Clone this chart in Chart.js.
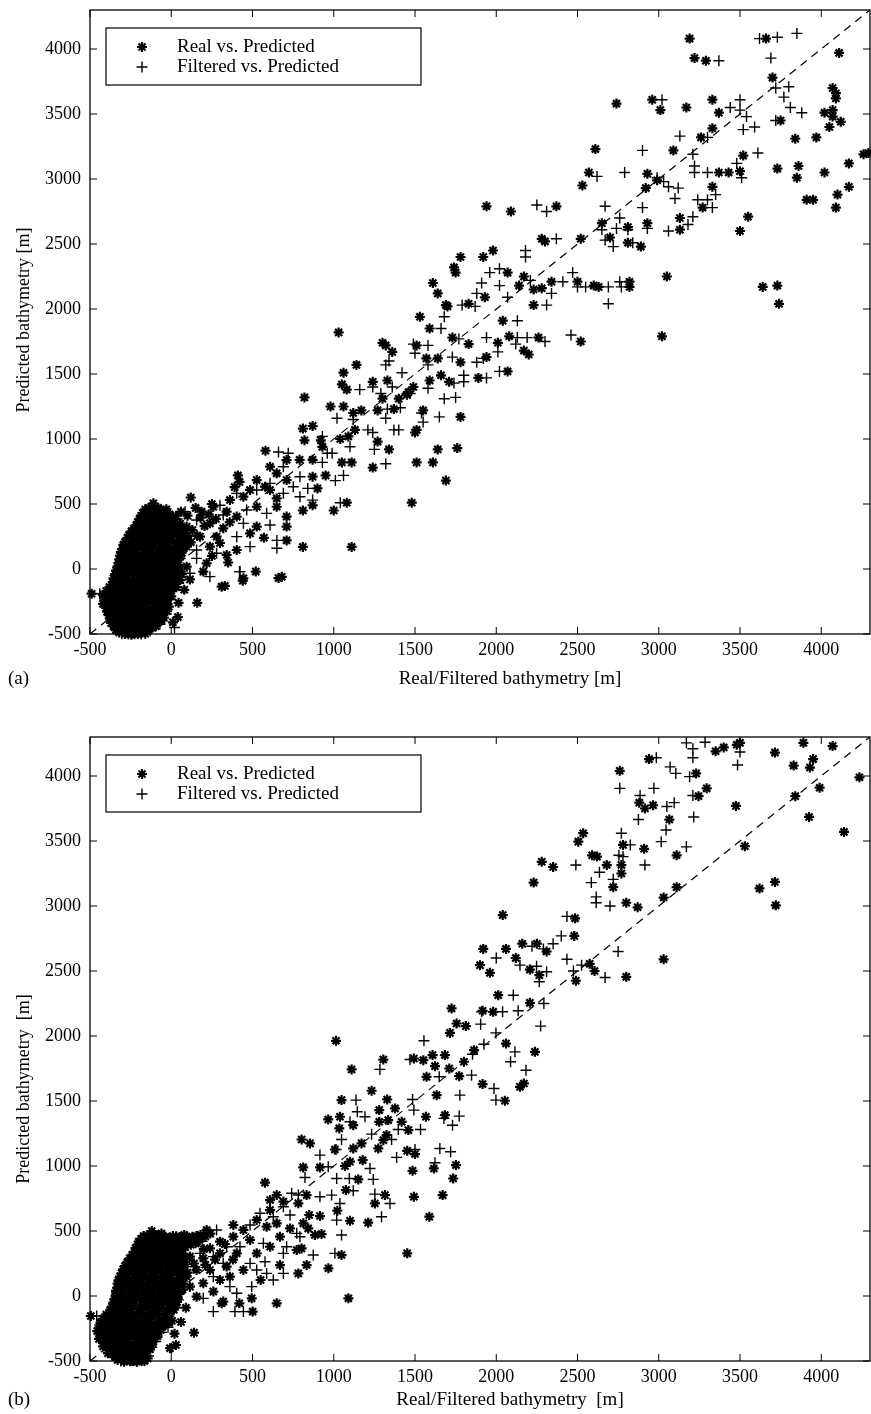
<!DOCTYPE html>
<html>
<head>
<meta charset="utf-8">
<script src="https://cdn.jsdelivr.net/npm/chart.js@4.4.0/dist/chart.umd.min.js"></script>
<style>
  html, body { margin: 0; padding: 0; background: #fff; }
  .panel { position: absolute; left: 0; width: 871px; height: 707px; }
  #panelA { top: 0; }
  #panelB { top: 707px; }
</style>
</head>
<body>
<div class="panel" id="panelA"><canvas id="chartA" width="871" height="707"></canvas></div>
<div class="panel" id="panelB"><canvas id="chartB" width="871" height="707"></canvas></div>
<script>
// axis ticks, both axes, both panels
const tickValues = [-500, 0, 500, 1000, 1500, 2000, 2500, 3000, 3500, 4000];
const axisMin = -500, axisMax = 4300;
const diagonal = [[-500, -500], [4300, 4300]];

// ---- panel (a) ----
const realA = [
  [3190,4080],[3660,4080],[3220,3930],[3290,3910],[4110,3970],[3700,3780],[4070,3700],[4090,3660],[4090,3620],[2740,3580],
  [2960,3610],[3010,3530],[3170,3550],[3330,3610],[3370,3510],[4020,3510],[4070,3530],[4070,3480],[4120,3440],[4050,3400],
  [3330,3390],[3750,3450],[3260,3320],[3840,3310],[3970,3320],[2610,3230],[3090,3220],[3520,3180],[4260,3190],[4290,3200],
  [4170,3120],[2570,3050],[2530,2950],[2930,3040],[2990,2990],[3370,3050],[3430,3050],[3500,3060],[3730,3080],[3860,3100],
  [3850,3010],[4020,3050],[2920,2930],[3330,2940],[3270,2780],[3910,2840],[3950,2840],[4100,2880],[4170,2940],[4090,2780],
  [3550,2710],[2650,2660],[2810,2630],[2930,2660],[2700,2550],[2810,2510],[2890,2480],[2520,2540],[3130,2700],[3130,2610],
  [3500,2600],[2500,2210],[2600,2180],[2630,2170],[2820,2210],[2820,2170],[3050,2250],[3640,2170],[3730,2180],[3740,2040],
  [3020,1790],
  [1940,2790],[2090,2750],[2370,2790],[2280,2540],[2300,2520],[1780,2400],[1920,2400],[1980,2450],[1740,2320],[1750,2280],
  [2070,2280],[1930,2090],[2170,2250],[2140,2180],[2230,2150],[2280,2160],[2340,2210],[2230,2030],[1610,2200],[1640,2120],
  [1690,2030],[1700,2020],[1830,2040],[1530,1940],[1590,1850],[2040,1910],[1030,1820],[1300,1740],[1320,1720],[1360,1670],
  [1510,1720],[1730,1780],[2010,1740],[1830,1730],[2080,1790],[2170,1680],[2200,1650],[2260,1780],[2520,1750],[1140,1570],
  [1060,1510],[1050,1420],[1080,1380],[1570,1620],[1640,1620],[1780,1590],[1940,1630],[2070,1520],[1450,1340],[1590,1450],
  [1660,1490],[1710,1440],[1890,1470],[1550,1220],[1780,1170],[1510,1070],[1500,1050],[1640,920],[1760,930],[1510,820],
  [1610,820],[1690,680],[1480,510],[1240,780],[1080,510],[1000,450],[820,1320],[980,1250],[1060,1250],[870,1100],
  [810,1080],[1240,1440],[1330,1450],[1300,1310],[1400,1310],[1460,1360],[1490,1400],[1370,1230],[1270,1220],[1120,1200],
  [1170,1220],[1130,1070],[1270,980],[1340,920],[920,990],[1040,1000],[1090,1020],[930,940],[820,990],[790,840],
  [870,840],[1050,820],[1110,820],[950,720],[870,710],[900,620],[870,490],[810,450],
  [580,910],[120,550],[250,500],[390,630],[420,670],[410,720],[570,240],[710,220],[810,170],[1110,170],
  [520,-20],[440,-90],[330,-130],[660,-70],[680,-60],[160,-260],[40,-370],[10,-410],[-490,-190],
  [710,838],[608,787],[649,736],[710,684],[526,684],[577,633],[485,608],[608,608],[649,543],[444,556],
  [361,531],[259,479],[341,441],[403,403],[526,479],[710,403],[649,479],[187,441],[95,326],[238,351],
  [320,313],[485,274],[279,249],[177,249],[710,326],[526,326],[95,172],[238,172],[341,108],[403,146],
  [218,44],[95,18],[197,-20],[310,-136],[444,-72],
  [100,410],[60,440],[150,470],[180,395],[130,300],[205,330],[160,255],[230,420],[275,385],[65,125],
  [120,205],[115,-80],[80,-160],[45,-260],[360,360],[300,200],[250,100],[350,50]
];
// dense core near the origin
const realCoreA = [
  [-110,505],[-80,470],[-140,470],
  [-175,430],[-130,445],[-90,430],[-45,445],[-10,420],
  [-195,385],[-155,395],[-115,380],[-70,400],[-30,375],[15,390],
  [-215,335],[-175,345],[-135,330],[-95,350],[-50,325],[-5,345],[40,320],
  [-245,290],[-200,280],[-160,300],[-120,275],[-75,295],[-30,270],[15,290],[60,265],
  [-270,240],[-230,225],[-185,245],[-145,220],[-100,240],[-55,215],[-10,235],[35,210],[80,230],
  [-295,185],[-250,170],[-205,190],[-165,165],[-120,185],[-75,160],[-30,180],[15,155],[60,175],
  [-310,130],[-270,115],[-225,135],[-180,110],[-140,130],[-95,105],[-50,125],[-5,100],[40,120],
  [-320,75],[-280,60],[-240,80],[-195,55],[-150,75],[-110,50],[-65,70],[-20,45],[30,65],
  [-330,20],[-290,5],[-250,25],[-205,0],[-160,20],[-120,-5],[-75,15],[-30,-10],[15,10],[50,-20],
  [-345,-40],[-300,-55],[-260,-35],[-215,-60],[-170,-40],[-130,-65],[-85,-45],[-40,-70],[5,-50],[40,-80],
  [-360,-100],[-320,-115],[-275,-95],[-230,-120],[-190,-100],[-145,-125],[-100,-105],[-55,-130],[-10,-110],[30,-140],
  [-400,-170],[-355,-155],[-315,-175],[-270,-160],[-225,-180],[-180,-160],[-140,-185],[-95,-165],[-50,-190],[-5,-170],
  [-410,-240],[-370,-220],[-330,-235],[-285,-215],[-240,-240],[-200,-220],[-155,-245],[-110,-225],[-65,-250],[-20,-230],
  [-400,-300],[-360,-280],[-315,-295],[-270,-275],[-225,-300],[-185,-280],[-140,-305],[-95,-285],[-50,-310],[-15,-290],
  [-385,-355],[-345,-340],[-300,-360],[-255,-335],[-215,-360],[-170,-340],[-125,-365],[-80,-345],[-45,-375],
  [-370,-415],[-330,-400],[-285,-420],[-245,-395],[-200,-420],[-160,-400],[-115,-425],[-80,-410],
  [-340,-470],[-300,-455],[-260,-480],[-220,-460],[-180,-485],[-145,-465],
  [-285,-500],[-245,-505],[-205,-500],
  [-160,458],[-120,462],[-75,455],[-30,460],
  [-185,410],[-135,415],[-95,405],[-50,418],[-5,400],[30,410],
  [-205,362],[-155,368],[-115,355],[-70,365],[-25,358],[20,362],[55,350],
  [-230,312],[-185,318],[-140,305],[-95,315],[-50,300],[-5,312],[40,298],[80,300],
  [-260,262],[-210,255],[-165,268],[-120,252],[-75,262],[-30,250],[15,262],[60,248],[100,255],
  [-285,208],[-230,202],[-185,214],[-140,198],[-95,210],[-50,200],[-5,212],[40,198],[85,205],
  [-300,155],[-250,148],[-200,160],[-155,145],[-115,158],[-70,142],[-25,155],[20,140],[60,150],
  [-315,102],[-260,95],[-215,105],[-170,90],[-125,102],[-80,88],[-35,98],[15,85],[55,95],
  [-325,48],[-270,40],[-225,52],[-180,35],[-135,48],[-90,30],[-45,42],[5,35],[45,30],
  [-340,-12],[-285,-20],[-235,-8],[-190,-25],[-145,-15],[-100,-30],[-55,-18],[-10,-28],[30,-15],[65,-40],
  [-355,-72],[-310,-85],[-280,-68],[-240,-90],[-195,-75],[-150,-90],[-110,-78],[-65,-95],[-20,-80],[20,-100],[55,-85],
  [-380,-138],[-340,-130],[-295,-145],[-250,-135],[-210,-150],[-165,-138],[-120,-150],[-75,-140],[-30,-155],[10,-140],
  [-420,-200],[-375,-192],[-345,-205],[-300,-198],[-255,-212],[-215,-195],[-175,-210],[-130,-198],[-85,-215],[-40,-200],[0,-210],
  [-420,-268],[-385,-255],[-345,-265],[-300,-250],[-255,-268],[-215,-255],[-170,-270],[-125,-255],[-80,-275],[-35,-262],
  [-395,-328],[-360,-318],[-320,-330],[-280,-315],[-240,-330],[-195,-318],[-150,-335],[-110,-320],[-65,-335],[-25,-325],
  [-375,-385],[-350,-378],[-310,-390],[-270,-372],[-230,-388],[-185,-375],[-140,-392],[-100,-378],[-60,-395],
  [-355,-442],[-315,-435],[-275,-448],[-235,-432],[-195,-445],[-155,-438],[-115,-450],[-95,-440],
  [-320,-488],[-270,-492],[-230,-495],[-190,-490],[-160,-498]
];
const filtA = [
  [3620,4080],[3730,4090],[3850,4120],[3370,3910],[3690,3930],[3720,3700],[3800,3710],[3770,3630],[3020,3610],[3500,3610],
  [3440,3550],[3500,3530],[3540,3480],[3810,3550],[3880,3510],[3520,3380],[3590,3400],[3720,3450],[3300,3320],[3130,3330],
  [2900,3220],[3210,3190],[3610,3200],[3220,3100],[3480,3120],[2620,3020],[2790,3050],[2990,3010],[3030,2980],[3060,2940],
  [3120,2930],[3220,3050],[3300,3050],[3510,3010],[3350,2880],[3240,2840],[3300,2840],[3100,2850],[3330,2780],[2670,2790],
  [2900,2780],[2650,2610],[2760,2700],[2740,2620],[2810,2610],[2930,2620],[2670,2530],[2720,2480],[2840,2510],[3060,2600],
  [3180,2650],[3210,2710],[2410,2210],[2470,2280],[2500,2170],[2550,2170],[2690,2170],[2760,2210],[2770,2170],[2690,2040],
  [2250,2800],[2310,2750],[2370,2540],[2180,2450],[2180,2400],[1960,2280],[2020,2310],[1910,2200],[2020,2180],[2070,2090],
  [1880,2120],[2210,2220],[2340,2120],[2310,2030],[1790,2030],[1870,2020],[1680,1940],[1660,1850],[2130,1910],[1340,1600],
  [1320,1570],[1490,1730],[1580,1720],[1500,1660],[1940,1780],[2010,1670],[1770,1770],[2130,1780],[2190,1780],[2120,1730],
  [2300,1750],[2460,1800],[1580,1570],[1730,1630],[1880,1590],[1920,1620],[2020,1520],[1420,1510],[1470,1350],[1580,1390],
  [1740,1430],[1800,1490],[1800,1440],[1940,1470],[1680,1310],[1750,1320],[1540,1200],[1650,1170],[1550,1130],[1320,810],
  [1160,1380],[1240,1400],[1290,1350],[1360,1400],[1450,1350],[1330,1230],[1410,1240],[1320,1160],[1120,1150],[1210,1070],
  [1240,1050],[1250,920],[1370,1070],[1400,1070],[1020,1160],[930,1020],[1100,940],[990,890],[960,890],[930,820],
  [1060,720],[1010,680],[840,620],[870,530],[1040,510],
  [660,900],[720,890],[300,490],[650,220],[650,160],[420,-20],[20,-450],[-130,-460],[-440,-190],
  [690,787],[608,659],[526,608],[690,582],[751,633],[403,582],[320,415],[587,428],[464,454],[85,441],
  [156,377],[444,351],[403,249],[608,338],[156,146],[279,121],[485,172],[156,82],[115,-33],[238,-59],
  [423,-20],[792,710],[792,556]
];
const filtCoreA = [
  [-150,430],[-60,380],[-200,310],[-100,300],[0,310],[-250,200],[-150,200],[-50,200],[50,200],[-290,100],
  [-200,90],[-100,80],[0,90],[-310,-20],[-230,-30],[-140,-20],[-50,-30],[30,-40],[-350,-130],[-250,-140],
  [-160,-130],[-70,-140],[-380,-250],[-290,-250],[-200,-260],[-100,-260],[-30,-270],[-350,-380],[-250,-380],[-150,-380],
  [-300,-440],[-200,-450],[-120,-460],[-240,-490],
  [-150,440],[-105,438],[-60,442],[-20,435],
  [-175,398],[-130,392],[-90,398],[-45,390],[0,395],[35,385],
  [-195,348],[-155,340],[-110,345],[-70,338],[-25,345],[20,338],[55,330],
  [-225,298],[-180,292],[-135,298],[-95,290],[-50,296],[-5,288],[40,292],[75,285],
  [-250,248],[-205,242],[-160,250],[-120,240],[-75,248],[-30,240],[15,246],[60,238],[95,240],
  [-275,195],[-230,188],[-185,196],[-140,185],[-95,194],[-50,186],[-5,195],[40,185],[80,190],
  [-290,142],[-245,135],[-200,145],[-155,132],[-110,142],[-65,134],[-20,143],[25,132],[65,138],
  [-300,88],[-255,80],[-210,90],[-165,78],[-120,88],[-75,80],[-30,88],[15,75],[55,80],
  [-315,32],[-270,25],[-225,35],[-180,22],[-135,32],[-90,20],[-45,30],[0,18],[40,12],
  [-330,-28],[-285,-35],[-240,-25],[-195,-40],[-150,-28],[-105,-42],[-60,-30],[-15,-45],[25,-35],[60,-60],
  [-345,-88],[-300,-98],[-255,-85],[-210,-100],[-170,-88],[-125,-102],[-80,-90],[-35,-105],[10,-92],[45,-110],
  [-375,-152],[-330,-145],[-290,-158],[-245,-148],[-200,-162],[-160,-150],[-115,-165],[-70,-152],[-25,-168],[15,-160],
  [-395,-215],[-355,-208],[-310,-220],[-265,-205],[-220,-222],[-180,-208],[-135,-225],[-90,-210],[-45,-222],[-5,-235],
  [-390,-282],[-345,-272],[-300,-285],[-255,-272],[-210,-288],[-165,-272],[-120,-290],[-75,-275],[-30,-290],
  [-370,-342],[-330,-350],[-285,-338],[-240,-350],[-195,-340],[-150,-352],[-105,-338],[-60,-355],[-30,-345],
  [-355,-400],[-315,-410],[-270,-398],[-225,-410],[-180,-400],[-140,-412],[-100,-400],[-70,-425],
  [-325,-458],[-285,-465],[-245,-452],[-205,-470],[-165,-455],[-130,-475],
  [-305,-498],[-265,-500],[-225,-498],[-185,-500]
];

// ---- panel (b) ----
const realB = [
  [2940,4130],[2760,4040],[3350,4190],[3400,4220],[3480,4240],[3500,4255],[3715,4180],[3890,4255],[4070,4230],[3830,4080],
  [3930,4065],[3950,4130],[4235,3990],[3990,3910],[3230,4020],[3295,3905],[3245,3845],[2880,3795],[2915,3750],[2965,3775],
  [3065,3665],[3475,3770],[3840,3845],[3925,3685],[4140,3570],[2535,3560],[2505,3495],[2780,3470],[2910,3440],[3110,3390],
  [2590,3390],[2620,3380],[2680,3315],[2770,3315],[2770,3250],[3530,3460],[2720,3145],[3110,3145],[3030,3065],[2800,3025],
  [2870,2990],[3620,3135],[3715,3185],[3720,3005],[2485,2905],[2480,2770],[3030,2590],[2575,2555],[2605,2500],[2490,2425],
  [2800,2455],
  [2280,3340],[2350,3300],[2230,3180],[2040,2930],[1920,2670],[2060,2670],[2160,2710],[2250,2710],[2310,2650],[2120,2600],
  [1900,2545],[1961,2486],[2207,2511],[2265,2468],[2012,2314],[2207,2255],[1725,2212],[1916,2194],[1981,2186],[1756,2096],
  [1813,2076],[1715,2024],[2060,1942],[2238,1878],[1014,1963],[1305,1819],[1110,1743],[1493,1827],[1551,1814],[1608,1853],
  [1684,1853],[1623,1768],[1571,1686],[1711,1750],[1772,1691],[1801,1802],[1863,1891],[1916,1630],[2146,1609],[2170,1635],
  [2053,1502],[1233,1579],[1633,1545],[1048,1507],[1280,1430],[1329,1512],[1377,1443],[1567,1379],[1684,1391],[966,1358],
  [1038,1379],[1034,1289],[1120,1314],[1280,1340],[1335,1353],[1418,1340],[1459,1276],[1325,1238],[1305,1199],[1171,1174],
  [1120,1135],[1274,1135],[1007,1127],[854,1174],[802,1204],[1500,1092],[1452,1117],[1100,1033],[1069,1000],[915,989],
  [812,989],[1178,1045],[1485,963],[1616,981],[1752,1007],[1735,904],[1151,897],[1075,815],[833,776],[1315,776],
  [1493,763],[1670,776],[1253,712],[1022,656],[849,623],[915,615],[1100,579],[1212,564],[1588,610],[843,520],
  [884,469],[925,476],[1048,315],[1452,328],[802,366],
  [577,872],[218,508],[382,546],[608,738],[649,777],[782,713],[772,354],[967,213],[833,238],[782,174],
  [669,238],[550,123],[495,-18],[501,-120],[419,-56],[649,-56],[1090,-18],[310,-56],[140,-282],[29,-377],
  [-8,-402],[-495,-154],
  [608,661],[690,726],[526,585],[587,533],[444,508],[485,431],[382,456],[300,418],[238,367],[156,418],
  [95,456],[54,354],[115,303],[197,290],[300,328],[403,328],[341,226],[238,200],[156,200],[95,149],
  [197,98],[300,123],[259,34],[156,-5],[115,72],[320,-43],[444,200],[526,328],[608,379],[669,456],
  [731,520],[813,559],[649,559],[361,149],
  [120,395],[180,440],[75,300],[140,250],[210,240],[270,280],[200,360],[100,180],[60,40],[90,-90],
  [60,-200],[20,-290],[330,400],[380,280]
];
const realCoreB = [
  [-120,500],[-90,470],[-150,465],[-60,480],
  [-185,440],[-140,430],[-100,450],[-55,430],[-15,445],[30,460],[80,470],[130,455],[180,470],[240,480],
  [-205,395],[-165,380],[-120,400],[-80,385],[-35,395],[10,380],[55,400],[100,410],[150,405],
  [-225,340],[-185,350],[-140,330],[-100,345],[-55,330],[-10,350],[35,335],
  [-255,290],[-210,275],[-170,295],[-125,280],[-80,290],[-35,270],[10,295],[55,280],
  [-285,230],[-240,245],[-195,225],[-150,240],[-105,220],[-60,245],[-15,225],[30,240],[75,220],
  [-305,175],[-260,190],[-215,170],[-170,185],[-125,165],[-80,190],[-35,170],[10,185],[55,165],
  [-325,120],[-280,135],[-235,115],[-190,130],[-145,110],[-100,135],[-55,115],[-10,130],[35,110],[70,95],
  [-330,65],[-290,80],[-245,60],[-200,75],[-160,55],[-115,80],[-70,60],[-25,75],[20,55],[60,70],
  [-340,10],[-300,25],[-255,5],[-215,20],[-170,0],[-125,25],[-85,5],[-40,20],[5,0],[45,15],
  [-355,-50],[-310,-35],[-270,-55],[-225,-40],[-180,-60],[-140,-35],[-95,-55],[-50,-40],[-5,-60],[35,-45],
  [-375,-110],[-330,-95],[-290,-115],[-245,-100],[-200,-120],[-155,-95],[-115,-115],[-70,-100],[-25,-120],[15,-105],
  [-420,-175],[-380,-160],[-340,-180],[-295,-165],[-250,-185],[-210,-160],[-165,-180],[-120,-165],[-75,-185],[-30,-165],[5,-190],
  [-440,-235],[-400,-220],[-355,-240],[-315,-225],[-270,-245],[-225,-220],[-185,-240],[-140,-225],[-95,-245],[-50,-230],
  [-430,-300],[-390,-285],[-345,-305],[-300,-290],[-260,-310],[-215,-285],[-170,-305],[-130,-290],[-85,-310],
  [-410,-360],[-365,-345],[-325,-365],[-280,-350],[-235,-370],[-195,-345],[-150,-365],[-110,-350],
  [-380,-410],[-340,-425],[-300,-405],[-255,-430],[-215,-410],[-170,-425],[-130,-410],
  [-345,-465],[-305,-480],[-265,-460],[-225,-485],[-185,-465],[-145,-480],
  [-290,-505],[-250,-500],[-210,-505],
  [-170,462],[-125,458],[-80,465],[-35,455],[10,462],[55,452],[105,448],[155,462],[210,458],
  [-200,418],[-150,412],[-110,422],[-65,408],[-20,420],[25,412],[75,425],[125,430],
  [-220,368],[-175,362],[-130,372],[-85,360],[-40,368],[5,358],[50,365],[85,375],
  [-240,316],[-195,320],[-150,308],[-105,318],[-60,305],[-15,318],[30,305],[70,310],
  [-270,262],[-225,258],[-180,268],[-135,255],[-90,265],[-45,252],[0,265],[45,255],[85,260],
  [-295,205],[-250,212],[-205,198],[-160,210],[-115,195],[-70,212],[-25,198],[20,210],[65,195],
  [-315,150],[-270,158],[-225,142],[-180,155],[-135,140],[-90,155],[-45,142],[0,158],[45,140],
  [-330,95],[-285,105],[-240,88],[-195,102],[-150,85],[-105,100],[-60,88],[-15,102],[30,85],[70,50],
  [-340,40],[-295,48],[-250,32],[-205,45],[-160,28],[-115,48],[-70,32],[-25,45],[20,30],[60,40],
  [-350,-22],[-305,-10],[-260,-25],[-215,-12],[-175,-30],[-130,-10],[-90,-28],[-45,-12],[0,-30],[40,-18],
  [-365,-82],[-320,-70],[-280,-88],[-235,-72],[-190,-90],[-150,-68],[-105,-85],[-60,-70],[-15,-90],[25,-75],
  [-400,-142],[-355,-130],[-315,-148],[-270,-135],[-225,-150],[-185,-130],[-140,-148],[-95,-135],[-50,-150],[-10,-135],
  [-435,-205],[-395,-192],[-360,-210],[-320,-195],[-275,-212],[-230,-195],[-190,-210],[-145,-195],[-100,-215],[-55,-200],[-15,-210],
  [-455,-270],[-420,-258],[-375,-272],[-335,-258],[-290,-275],[-245,-258],[-200,-272],[-155,-258],[-110,-275],[-65,-262],
  [-445,-330],[-405,-318],[-365,-335],[-320,-320],[-280,-338],[-235,-318],[-190,-335],[-150,-320],[-110,-330],
  [-420,-388],[-385,-378],[-345,-392],[-300,-378],[-255,-395],[-215,-380],[-170,-392],[-130,-380],
  [-390,-440],[-360,-450],[-320,-438],[-280,-452],[-235,-440],[-195,-450],[-155,-440],
  [-330,-492],[-275,-490],[-235,-500],[-195,-492],[-165,-500]
];
const filtB = [
  [3170,4255],[3210,4210],[3210,4140],[3285,4260],[3500,4185],[3485,4085],[2985,4140],[3070,4070],[3105,4020],[3190,3995],
  [2760,3905],[2970,3905],[2885,3850],[3210,3850],[3050,3765],[3095,3795],[2875,3665],[3215,3685],[3045,3585],[3015,3495],
  [2770,3560],[2825,3470],[2755,3390],[2780,3380],[3170,3455],[2915,3315],[2490,3315],[2635,3260],[2585,3180],[2720,3205],
  [2615,3070],[2615,3025],[2700,3000],[2435,2920],[2400,2770],[2750,2650],[2435,2590],[2525,2545],[2475,2500],[2670,2450],
  [2350,2710],[2220,2690],[2290,2670],[2000,2600],
  [2146,2545],[2248,2537],[2310,2494],[2265,2417],[2105,2314],[2293,2250],[1910,2186],[2039,2186],[2135,2194],[1904,2091],
  [2273,2076],[1998,2024],[1555,1963],[1924,1937],[2115,1878],[2088,1802],[2183,1737],[1854,1860],[1284,1743],[1469,1819],
  [1649,1686],[1848,1699],[1986,1596],[1776,1545],[1998,1507],[1137,1507],[1485,1512],[1493,1430],[1145,1417],[1192,1379],
  [1100,1340],[1397,1281],[1534,1281],[1678,1366],[1731,1314],[1772,1384],[1048,1204],[1014,1127],[1233,1245],[1356,1204],
  [1387,1066],[1500,1127],[1653,1135],[1719,1110],[915,1084],[966,994],[1223,981],[1623,1025],[823,912],[1018,904],
  [1096,904],[1243,897],[915,763],[987,776],[1120,810],[1253,784],[1346,712],[1038,712],[1018,584],[1294,610],
  [1048,469],[874,315],[1007,328],
  [279,508],[741,790],[782,777],[690,687],[731,623],[772,482],[577,264],[628,123],[690,174],[495,72],
  [392,-120],[444,-120],[259,-120],[-459,-154],[-162,-479],[2,-402],
  [628,610],[546,636],[485,546],[423,379],[341,379],[259,303],[177,328],[74,303],[136,226],[259,149],
  [361,72],[485,251],[567,405],[710,379],[792,456],[690,328],[526,200],[403,21],[197,-18],[587,174],
  [320,251]
];
const filtCoreB = [
  [-160,440],[-70,370],[-210,300],[-110,310],[-10,300],[80,380],[190,420],[-260,200],[-160,210],[-60,190],
  [40,200],[-300,100],[-210,95],[-110,90],[-10,95],[-320,-10],[-240,-20],[-150,-25],[-60,-15],[20,-35],
  [-360,-140],[-260,-140],[-170,-140],[-80,-140],[-400,-260],[-300,-260],[-200,-265],[-110,-265],[-370,-380],[-270,-390],
  [-170,-385],[-310,-450],[-210,-455],[-250,-495],
  [-150,445],[-105,440],[-60,448],[-15,438],[35,442],[90,445],[140,440],
  [-180,402],[-135,395],[-95,402],[-50,395],[-5,402],[40,392],[90,395],
  [-205,352],[-160,345],[-120,352],[-75,343],[-30,352],[15,342],[60,348],
  [-230,302],[-190,296],[-145,302],[-100,294],[-55,300],[-10,292],[35,300],[75,292],
  [-260,250],[-215,244],[-170,252],[-125,242],[-80,250],[-35,242],[10,250],[55,240],[95,244],
  [-285,195],[-240,190],[-195,198],[-150,188],[-105,196],[-60,188],[-15,196],[30,188],[70,192],
  [-305,140],[-260,135],[-215,145],[-170,132],[-125,142],[-80,134],[-35,143],[10,132],[50,138],
  [-320,85],[-270,80],[-225,90],[-180,78],[-135,88],[-90,80],[-45,88],[0,75],[45,82],
  [-335,28],[-285,25],[-240,35],[-195,22],[-150,32],[-105,20],[-60,30],[-15,18],[30,25],
  [-345,-35],[-300,-28],[-255,-40],[-210,-28],[-165,-42],[-120,-30],[-75,-45],[-30,-32],[15,-48],[45,-30],
  [-365,-95],[-320,-88],[-275,-100],[-230,-88],[-185,-102],[-140,-90],[-95,-105],[-50,-90],[-5,-105],[30,-90],
  [-400,-160],[-360,-150],[-320,-165],[-275,-150],[-230,-165],[-190,-150],[-145,-168],[-100,-152],[-55,-168],[-15,-155],
  [-440,-222],[-400,-208],[-360,-225],[-315,-210],[-270,-228],[-225,-210],[-180,-228],[-135,-212],[-90,-230],[-45,-215],[-20,-240],
  [-440,-288],[-400,-272],[-360,-290],[-315,-275],[-270,-292],[-225,-275],[-180,-292],[-140,-275],[-95,-292],[-60,-280],
  [-425,-348],[-385,-335],[-345,-350],[-300,-335],[-255,-352],[-215,-335],[-170,-352],[-130,-338],[-95,-350],
  [-400,-402],[-360,-395],[-320,-408],[-275,-395],[-235,-410],[-190,-395],[-150,-408],[-120,-395],
  [-365,-455],[-340,-445],[-300,-458],[-255,-445],[-215,-462],[-175,-448],[-140,-462],
  [-310,-500],[-255,-498],[-215,-500],[-180,-498]
];

const pts = arr => arr.map(([x, y]) => ({ x, y }));
const serif = '"Liberation Serif", "Times New Roman", serif';

// box, inward ticks on all sides, legend, axis titles
const framePlugin = {
  id: 'frame',
  afterDraw(chart, args, o) {
    const { ctx, chartArea: a, scales: { x, y } } = chart;
    ctx.save();
    ctx.strokeStyle = '#000';
    ctx.lineWidth = 1.3;
    ctx.strokeRect(a.left, a.top, a.right - a.left, a.bottom - a.top);
    ctx.lineWidth = 1;
    ctx.beginPath();
    tickValues.forEach(v => {
      const px = x.getPixelForValue(v), py = y.getPixelForValue(v);
      ctx.moveTo(px, a.bottom); ctx.lineTo(px, a.bottom - 7);
      ctx.moveTo(px, a.top); ctx.lineTo(px, a.top + 7);
      ctx.moveTo(a.left, py); ctx.lineTo(a.left + 7, py);
      ctx.moveTo(a.right, py); ctx.lineTo(a.right - 7, py);
    });
    ctx.stroke();

    // legend
    const lx = 106, ly = a.top + 18, lw = 315, lh = 57;
    ctx.fillStyle = '#fff';
    ctx.fillRect(lx, ly, lw, lh);
    ctx.lineWidth = 1.2;
    ctx.strokeRect(lx, ly, lw, lh);
    const rows = [
      { text: 'Real vs. Predicted', style: 'star', r: 5, w: 2.2, dy: 19 },
      { text: 'Filtered vs. Predicted', style: 'cross', r: 5.5, w: 1.4, dy: 39 }
    ];
    ctx.fillStyle = '#000';
    ctx.font = '19px ' + serif;
    ctx.textBaseline = 'middle';
    ctx.textAlign = 'left';
    rows.forEach(r => {
      ctx.lineWidth = r.w;
      Chart.helpers.drawPoint(ctx, { pointStyle: r.style, radius: r.r, rotation: 0, borderWidth: r.w }, 142, ly + r.dy);
      ctx.fillText(r.text, 177, ly + r.dy);
    });

    // axis titles and panel tag
    ctx.font = '19px ' + serif;
    ctx.textAlign = 'center';
    ctx.fillText(o.xTitle, 510, o.xTitleY);
    ctx.textAlign = 'left';
    ctx.fillText(o.tag, 8, o.xTitleY);
    ctx.translate(24, o.yTitleY);
    ctx.rotate(-Math.PI / 2);
    ctx.textAlign = 'center';
    ctx.font = '18px ' + serif;
    ctx.fillText(o.yTitle, 0, 0);
    ctx.restore();
  }
};

function buildPanel(id, real, filt, o) {
  const tickFont = { family: serif, size: 18 };
  return new Chart(document.getElementById(id), {
    type: 'scatter',
    data: {
      datasets: [
        {
          label: 'Filtered vs. Predicted',
          data: pts(filt),
          pointStyle: 'cross',
          pointRadius: 5.5,
          pointBorderWidth: 1.4,
          borderColor: '#000',
          backgroundColor: '#000',
          clip: false
        },
        {
          label: 'Real vs. Predicted',
          data: pts(real),
          pointStyle: 'star',
          pointRadius: 5,
          pointBorderWidth: 2.2,
          borderColor: '#000',
          backgroundColor: '#000',
          clip: false
        },
        {
          type: 'line',
          label: 'y = x',
          data: pts(diagonal),
          borderColor: '#000',
          borderWidth: 1.2,
          borderDash: [8, 6],
          pointRadius: 0,
          fill: false
        }
      ]
    },
    options: {
      responsive: false,
      animation: false,
      devicePixelRatio: 1,
      events: [],
      layout: { autoPadding: false, padding: { top: o.padTop, right: 1, left: 0, bottom: 0 } },
      plugins: {
        legend: { display: false },
        tooltip: { enabled: false },
        frame: o
      },
      scales: {
        x: {
          type: 'linear',
          min: axisMin,
          max: axisMax,
          grid: { display: false, drawTicks: false },
          border: { display: false },
          afterBuildTicks: s => { s.ticks = tickValues.map(v => ({ value: v })); },
          afterFit: s => { s.height = o.xAxisH; s.paddingLeft = 0; s.paddingRight = 0; },
          ticks: { color: '#000', font: tickFont, padding: 5, maxRotation: 0, autoSkip: false, callback: v => String(v) }
        },
        y: {
          type: 'linear',
          min: axisMin,
          max: axisMax,
          grid: { display: false, drawTicks: false },
          border: { display: false },
          afterBuildTicks: s => { s.ticks = tickValues.map(v => ({ value: v })); },
          afterFit: s => { s.width = 90; s.paddingTop = 0; s.paddingBottom = 0; },
          ticks: { color: '#000', font: tickFont, padding: 9, autoSkip: false, callback: v => String(v) }
        }
      }
    },
    plugins: [framePlugin]
  });
}

buildPanel('chartA', realA.concat(realCoreA), filtA.concat(filtCoreA), {
  padTop: 10, xAxisH: 73,
  xTitle: 'Real/Filtered bathymetry [m]', xTitleY: 679,
  yTitle: 'Predicted bathymetry [m]', yTitleY: 320,
  tag: '(a)'
});
buildPanel('chartB', realB.concat(realCoreB), filtB.concat(filtCoreB), {
  padTop: 30, xAxisH: 53,
  xTitle: 'Real/Filtered bathymetry  [m]', xTitleY: 693,
  yTitle: 'Predicted bathymetry  [m]', yTitleY: 382,
  tag: '(b)'
});
</script>
</body>
</html>
